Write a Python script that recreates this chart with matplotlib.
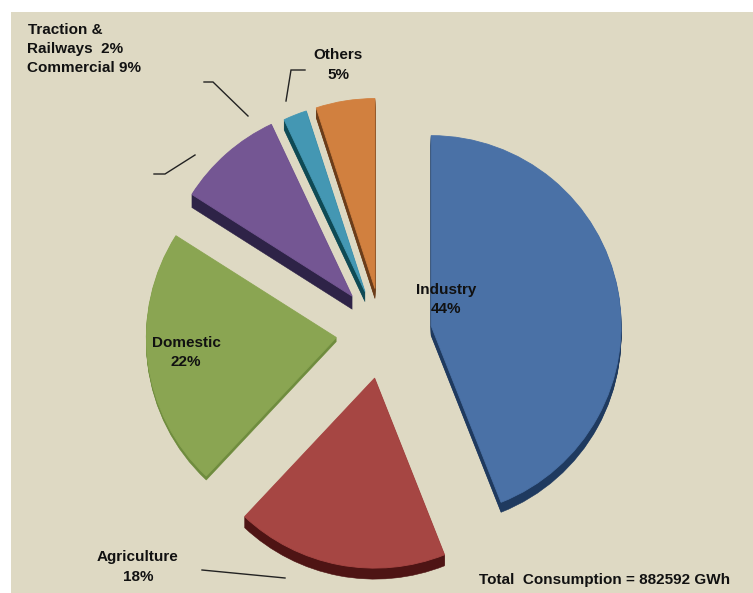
import matplotlib
matplotlib.use("Agg")
import matplotlib.pyplot as plt
from matplotlib.patches import Rectangle, Wedge

# Sector shares of electricity consumption, percent
sectors = ["Industry", "Agriculture", "Domestic", "Commercial", "Traction & Railways", "Others"]
shares = [44, 18, 22, 9, 2, 5]
total_gwh = 882592

# Slice styling: face colour, extrusion colour, extrusion depth, explode distance, fine offset
faces = ["#4a71a6", "#a64643", "#8aa552", "#745693", "#4497b3", "#d1803f"]
sides = ["#1f3a5f", "#4e1414", "#6f8c3e", "#2e2347", "#0f4a55", "#6b3d1a"]
depths = [10, 11, 4, 13, 10, 10]
explode = [50, 50, 44, 45, 38, 45]
nudges = [(2, -3), (4, 3), (0, 0), (2, 2), (-1, 5), (2, -1)]

W, H = 753, 593
BG = "#ded9c3"
RADIUS = 190

plt.rcParams["font.family"] = ["Liberation Sans", "DejaVu Sans"]

fig = plt.figure(figsize=(W / 100, H / 100), dpi=100, facecolor="white")
ax = fig.add_axes([0, 0, 1, 1])

wedges, _ = ax.pie(
    shares, explode=explode, colors=faces, startangle=90, counterclock=False,
    radius=RADIUS, center=(380, H - 332), frame=True,
    wedgeprops={"linewidth": 0, "zorder": 5},
)

# Extrude each slice downward to give the pie its thickness
for wedge, face, side, depth, (dx, dy) in zip(wedges, faces, sides, depths, nudges):
    cx, cy = wedge.center
    cx, cy = cx + dx, cy + dy
    wedge.set_center((cx, cy))
    wedge.set_edgecolor(face)
    wedge.set_linewidth(0.6)
    for step in range(1, depth + 1):
        ax.add_patch(Wedge((cx, cy - step), wedge.r, wedge.theta1, wedge.theta2,
                           facecolor=side, edgecolor=side, linewidth=0.4, zorder=4))

ax.add_patch(Rectangle((11, 0), W - 11, H - 12, facecolor=BG, edgecolor="none", zorder=0))
ax.set_xlim(0, W)
ax.set_ylim(0, H)
ax.set_aspect("equal")
ax.axis("off")

# Leader lines beside the small slices
leaders = [
    ([204, 213, 248], [82, 82, 116]),
    ([154, 165, 195], [174, 174, 155]),
    ([305, 291, 286], [70, 70, 101]),
    ([202, 285], [570, 578]),
]
for xs, ys in leaders:
    ax.plot(xs, [H - y for y in ys], color="#222222", lw=1, zorder=6, solid_joinstyle="miter")


def label(x, y, text, ha="center"):
    ax.text(x, H - y, text, ha=ha, va="center", fontsize=11, fontweight="bold",
            color="#111111", zorder=7)


label(28, 30, "Traction &", ha="left")
label(27, 49, f"Railways  {shares[4]}%", ha="left")
label(27, 68, f"Commercial {shares[3]}%", ha="left")
label(338, 55, sectors[5])
label(338, 75, f"{shares[5]}%")
label(446, 290, sectors[0])
label(446, 309, f"{shares[0]}%")
label(186, 343, sectors[2])
label(186, 362, f"{shares[2]}%")
label(138, 557, sectors[1])
label(138, 577, f"{shares[1]}%")
label(479, 580, f"Total  Consumption = {total_gwh} GWh", ha="left")

fig.savefig("out.png", dpi=100, facecolor="white")
